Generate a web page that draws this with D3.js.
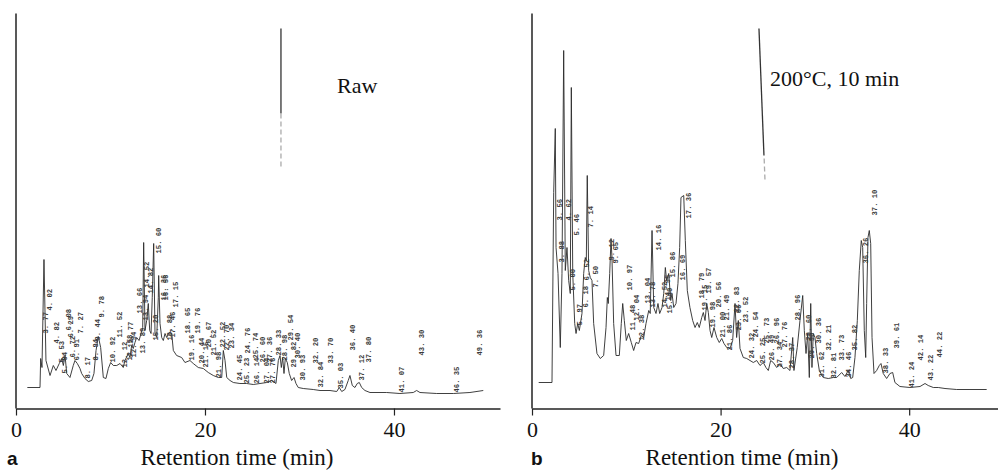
<!DOCTYPE html>
<html>
<head>
<meta charset="utf-8">
<script src="https://cdn.jsdelivr.net/npm/d3@7"></script>
<style>
    body { margin: 0; background: #fff; }
    svg { display: block; }
</style>
</head>
<body>
<svg id="chart" width="998" height="470"></svg>
<script>
// Retention time ticks (min)
const xTicks = [0, 20, 40];

// Raw sample trace: [time (min), signal]
const rawTrace = [
    [1.20, 21], [2.54, 21], [2.61, 50], [2.75, 41], [2.96, 149], [3.17, 48], [3.60, 33], [3.95, 43],
    [4.23, 38], [4.58, 45], [4.84, 50], [5.01, 43], [5.19, 53], [5.37, 35], [5.71, 31], [6.06, 43],
    [6.24, 48], [6.49, 45], [6.77, 40], [6.95, 35], [7.30, 30], [7.65, 27], [8.01, 28], [8.25, 35],
    [8.47, 58], [8.71, 72], [8.96, 61], [9.24, 31], [9.52, 30], [9.77, 40], [10.02, 46], [10.30, 43],
    [10.66, 43], [11.01, 45], [11.35, 41], [11.53, 48], [11.88, 55], [12.06, 51], [12.24, 63], [12.41, 60],
    [12.59, 66], [12.77, 71], [13.02, 68], [13.23, 75], [13.41, 81], [13.51, 166], [13.65, 78], [13.83, 88],
    [14.00, 105], [14.15, 78], [14.29, 75], [14.42, 111], [14.57, 165], [14.71, 75], [14.89, 71], [15.06, 111],
    [15.10, 133], [15.24, 85], [15.42, 71], [15.59, 68], [15.77, 75], [15.95, 71], [16.19, 76], [16.48, 75],
    [16.65, 58], [17.00, 53], [17.53, 51], [17.88, 46], [18.41, 48], [18.76, 45], [19.29, 41], [19.82, 40],
    [20.35, 36], [20.88, 33], [21.41, 31], [21.77, 31], [21.94, 58], [22.12, 48], [22.30, 31], [22.65, 28],
    [23.00, 26], [23.70, 25], [24.41, 25], [25.11, 24], [25.82, 25], [26.53, 26], [27.06, 28], [27.51, 25],
    [27.76, 48], [27.94, 53], [28.08, 41], [28.22, 51], [28.36, 35], [28.50, 50], [28.71, 46], [28.92, 35],
    [29.17, 28], [29.42, 31], [29.63, 25], [29.87, 21], [30.40, 20], [31.46, 19], [32.17, 18], [33.23, 18],
    [33.94, 17], [34.21, 21], [34.47, 17], [34.81, 19], [35.16, 28], [35.34, 33], [35.59, 23], [35.87, 21],
    [36.11, 25], [36.33, 26], [36.58, 21], [36.93, 18], [37.46, 16], [39.23, 16], [40.63, 15], [42.04, 16],
    [42.40, 18], [42.75, 16], [44.52, 15], [46.28, 15], [48.04, 16], [49.45, 18]
];

// Raw sample peak labels: [text, time (min), signal at label start]
const rawLabels = [
    ['3. 77', 3.14, 75], ['4. 02', 3.52, 98], ['4. 82', 4.23, 65], ['5. 53', 4.84, 46], ['5. 94', 5.11, 35],
    ['6. 08', 5.53, 78], ['6. 29', 5.79, 71], ['6. 72', 6.00, 51], ['6. 91', 6.42, 48], ['7. 27', 6.77, 75],
    ['8. 17', 7.54, 30], ['8. 94', 8.43, 48], ['9. 44', 8.65, 68], ['9. 78', 9.07, 91], ['10. 92', 10.23, 46],
    ['11. 52', 10.93, 71], ['12. 12', 11.53, 41], ['12. 58', 11.99, 48], ['12. 77', 12.14, 61], ['12. 94', 12.41, 51],
    ['13. 66', 13.05, 95], ['13. 89', 13.41, 55], ['13. 94', 13.72, 88], ['14. 52', 13.83, 121], ['14. 82', 14.18, 115],
    ['15. 20', 14.71, 68], ['15. 60', 15.06, 155], ['16. 36', 15.59, 108], ['16. 56', 15.84, 108], ['16. 88', 16.22, 68],
    ['17. 46', 16.51, 71], ['17. 15', 16.83, 101], ['18. 65', 18.17, 75], ['19. 16', 18.59, 48], ['19. 76', 19.19, 75],
    ['20. 44', 19.68, 45], ['21. 15', 20.07, 41], ['20. 67', 20.32, 61], ['21. 52', 20.88, 53], ['21. 98', 21.41, 31],
    ['22. 52', 21.87, 61], ['22. 70', 22.30, 58], ['23. 34', 22.83, 60], ['24. 45', 23.70, 28], ['24. 76', 24.50, 55],
    ['25. 23', 24.44, 25], ['25. 74', 25.29, 50], ['26. 14', 25.40, 25], ['26. 60', 26.10, 46], ['27. 04', 26.46, 25],
    ['27. 36', 26.80, 46], ['27. 76', 27.12, 25], ['28. 33', 27.76, 53], ['28. 98', 28.36, 48], ['29. 54', 29.00, 68],
    ['29. 82', 29.34, 41], ['30. 40', 29.81, 50], ['30. 93', 30.30, 28], ['32. 20', 31.64, 45], ['32. 84', 32.17, 21],
    ['33. 70', 33.23, 45], ['35. 03', 34.29, 20], ['36. 40', 35.63, 58], ['37. 12', 36.51, 28], ['37. 80', 37.28, 46],
    ['41. 07', 40.74, 16], ['43. 30', 42.93, 53], ['46. 35', 46.63, 16], ['49. 36', 49.10, 53]
];

// 200°C, 10 min trace: [time (min), signal]
const heatTrace = [
    [0.71, 26], [2.12, 26], [2.30, 216], [2.47, 280], [2.55, 161], [2.76, 135], [3.00, 61], [3.18, 135],
    [3.36, 358], [3.53, 138], [3.71, 161], [3.89, 128], [4.06, 115], [4.17, 321], [4.32, 135], [4.53, 85],
    [4.67, 75], [4.85, 85], [5.02, 78], [5.30, 95], [5.48, 135], [5.65, 151], [5.76, 148], [5.86, 233],
    [6.01, 138], [6.18, 131], [6.36, 128], [6.54, 85], [6.89, 55], [7.24, 50], [7.60, 53], [7.85, 81],
    [7.99, 111], [8.09, 105], [8.24, 135], [8.38, 170], [8.48, 151], [8.66, 85], [8.91, 53], [9.26, 53],
    [9.47, 85], [9.62, 105], [9.79, 88], [10.00, 68], [10.25, 75], [10.53, 66], [10.78, 58], [11.03, 66],
    [11.31, 65], [11.59, 73], [11.84, 71], [12.09, 85], [12.38, 98], [12.54, 95], [12.73, 178], [12.91, 101],
    [13.15, 95], [13.36, 105], [13.54, 95], [13.79, 101], [13.97, 115], [14.14, 141], [14.28, 128], [14.50, 135],
    [14.71, 108], [14.85, 115], [15.03, 101], [15.27, 105], [15.48, 125], [15.66, 161], [15.80, 211], [16.09, 213],
    [16.26, 168], [16.47, 118], [16.75, 101], [17.04, 88], [17.29, 81], [17.53, 86], [17.74, 81], [18.00, 91],
    [18.17, 96], [18.35, 88], [18.53, 105], [18.70, 96], [18.88, 78], [19.06, 71], [19.30, 81], [19.59, 71],
    [19.86, 66], [20.12, 70], [20.36, 65], [20.65, 61], [21.00, 60], [21.28, 68], [21.53, 105], [21.70, 71],
    [21.88, 88], [22.06, 60], [22.41, 51], [22.77, 50], [23.12, 48], [23.47, 46], [23.83, 48], [24.18, 43],
    [24.53, 46], [24.81, 41], [25.06, 38], [25.31, 48], [25.59, 46], [25.95, 41], [26.30, 45], [26.65, 40],
    [27.01, 41], [27.36, 38], [27.65, 71], [27.78, 38], [28.13, 61], [28.42, 88], [28.71, 113], [28.88, 78],
    [29.06, 55], [29.24, 75], [29.41, 31], [29.56, 105], [29.69, 41], [29.83, 75], [30.01, 71], [30.19, 55],
    [30.47, 38], [30.89, 31], [31.42, 30], [31.95, 31], [32.31, 31], [32.84, 36], [33.19, 32], [33.54, 38],
    [33.80, 30], [34.01, 31], [34.25, 51], [34.50, 88], [34.71, 138], [34.92, 168], [35.07, 161], [35.24, 78],
    [35.39, 51], [35.49, 105], [35.63, 171], [35.77, 178], [35.92, 165], [36.06, 71], [36.27, 35], [36.55, 38],
    [36.83, 43], [37.01, 45], [37.25, 35], [37.61, 30], [37.96, 35], [38.25, 36], [38.49, 26], [39.02, 22],
    [40.08, 21], [41.15, 22], [41.68, 25], [42.02, 23], [42.56, 21], [43.09, 21], [43.80, 20], [45.04, 19],
    [46.45, 19], [48.22, 19]
];

// 200°C, 10 min peak labels: [text, time (min), signal at label start]
const heatLabels = [
    ['3. 56', 2.90, 188], ['3. 88', 3.08, 146], ['4. 62', 3.92, 188], ['5. 00', 4.32, 118], ['5. 46', 4.74, 173],
    ['5. 97', 5.02, 83], ['6. 18', 5.65, 101], ['6. 52', 5.76, 128], ['7. 14', 6.22, 181], ['7. 50', 6.75, 121],
    ['9. 12', 8.38, 148], ['9. 65', 8.80, 145], ['10. 97', 10.32, 118], ['11. 48', 10.68, 78], ['12. 04', 11.03, 88],
    ['12. 38', 11.63, 68], ['13. 04', 12.27, 105], ['13. 78', 12.80, 101], ['14. 16', 13.39, 158], ['14. 52', 14.00, 101],
    ['14. 95', 14.32, 108], ['15. 40', 14.63, 95], ['15. 86', 14.92, 131], ['16. 69', 15.98, 128], ['17. 36', 16.57, 190],
    ['18. 79', 17.92, 110], ['19. 15', 18.24, 98], ['19. 57', 18.70, 115], ['19. 98', 19.12, 81], ['20. 56', 19.76, 101],
    ['21. 00', 20.22, 71], ['21. 49', 20.65, 88], ['21. 86', 20.92, 58], ['22. 83', 21.71, 96], ['23. 06', 21.88, 78],
    ['23. 52', 22.59, 86], ['24. 32', 23.30, 50], ['24. 54', 23.65, 71], ['25. 25', 24.42, 45], ['25. 73', 24.89, 65],
    ['26. 49', 25.42, 48], ['26. 96', 25.95, 65], ['27. 34', 26.22, 41], ['27. 76', 26.76, 61], ['28. 37', 27.47, 40],
    ['28. 96', 28.18, 88], ['29. 60', 29.27, 68], ['29. 90', 29.69, 50], ['30. 36', 30.33, 65], ['31. 62', 30.72, 31],
    ['32. 21', 31.42, 58], ['32. 81', 31.95, 30], ['33. 73', 32.84, 48], ['34. 46', 33.54, 31], ['35. 82', 34.25, 58],
    ['36. 26', 35.39, 145], ['37. 10', 36.30, 193], ['38. 33', 37.51, 35], ['39. 61', 38.67, 60], ['41. 24', 40.27, 21],
    ['42. 14', 41.22, 48], ['43. 22', 42.21, 28], ['44. 22', 43.19, 51]
];

// Vertical marker strokes near the top of each run: solid part, then faint part ([t, v] pairs)
const rawMarker = [[[28.04, 380], [28.04, 295]], [[28.04, 295], [28.04, 241]]];
const heatMarker = [[[24.07, 380], [24.60, 253]], [[24.62, 250], [24.71, 228]]];

const svg = d3.select('#chart');

const y = d3.scaleLinear()
    .domain([0, 400])
    .range([408.5, 8.5]);

const SERIF = '"Liberation Serif", "Times New Roman", serif';

function drawPanel(opts) {
    const { trace, labels, marker, x, letter, letterX, titleX, note, notePos } = opts;
    const g = svg.append('g');
    const x0 = x.range()[0];

    // Chromatogram trace
    g.append('path')
        .datum(trace)
        .attr('fill', 'none')
        .attr('stroke', '#2a2a2a')
        .attr('stroke-width', 0.9)
        .attr('stroke-linejoin', 'round')
        .attr('d', d3.line().x(d => x(d[0])).y(d => y(d[1])));

    // Marker stroke
    marker.forEach((seg, i) => {
        g.append('line')
            .attr('x1', x(seg[0][0])).attr('y1', y(seg[0][1]))
            .attr('x2', x(seg[1][0])).attr('y2', y(seg[1][1]))
            .attr('stroke', i === 0 ? '#333' : '#aaa')
            .attr('stroke-width', 1.3)
            .attr('stroke-dasharray', i === 0 ? null : '5,3');
    });

    // Peak labels (rotated, reading upward)
    g.selectAll('.peak')
        .data(labels)
        .enter()
        .append('text')
        .attr('class', 'peak')
        .attr('transform', d => `translate(${x(d[1])},${y(d[2])}) rotate(-90)`)
        .attr('dy', '0.35em')
        .style('font-family', '"Liberation Mono", "DejaVu Sans Mono", monospace')
        .style('font-weight', 'bold')
        .style('font-size', '7.2px')
        .style('fill', '#3a3a3a')
        .text(d => d[0]);

    // Y axis line (no ticks)
    g.append('line')
        .attr('x1', x0).attr('x2', x0)
        .attr('y1', y(0)).attr('y2', y(395))
        .attr('stroke', '#222')
        .attr('stroke-width', 1.5);

    // X axis
    const xAxis = d3.axisBottom(x)
        .tickValues(xTicks)
        .tickSize(7)
        .tickSizeOuter(0)
        .tickPadding(6)
        .tickFormat(d3.format('d'));

    const ax = g.append('g')
        .attr('transform', `translate(0,${y(0)})`)
        .call(xAxis);
    ax.select('.domain').attr('stroke', '#222').attr('stroke-width', 1.5);
    ax.selectAll('.tick line').attr('stroke', '#222').attr('stroke-width', 1.2);
    ax.selectAll('.tick text')
        .style('font-family', SERIF)
        .style('font-size', '22px')
        .style('fill', '#111');

    // Axis title
    g.append('text')
        .attr('x', titleX)
        .attr('y', 465)
        .attr('text-anchor', 'middle')
        .style('font-family', SERIF)
        .style('font-size', '23px')
        .style('fill', '#111')
        .text('Retention time (min)');

    // Panel letter
    g.append('text')
        .attr('x', letterX)
        .attr('y', 465)
        .style('font-family', '"Liberation Sans", Arial, sans-serif')
        .style('font-weight', 'bold')
        .style('font-size', '19px')
        .style('fill', '#111')
        .text(letter);

    // Condition note
    g.append('text')
        .attr('x', notePos[0])
        .attr('y', notePos[1])
        .style('font-family', SERIF)
        .style('font-size', '22px')
        .style('fill', '#111')
        .text(note);
}

drawPanel({
    trace: rawTrace,
    labels: rawLabels,
    marker: rawMarker,
    x: d3.scaleLinear().domain([0, 51.22]).range([16, 500]),
    letter: 'a',
    letterX: 7,
    titleX: 237,
    note: 'Raw',
    notePos: [337, 93]
});

drawPanel({
    trace: heatTrace,
    labels: heatLabels,
    marker: heatMarker,
    x: d3.scaleLinear().domain([0, 49.42]).range([532, 998]),
    letter: 'b',
    letterX: 531,
    titleX: 742,
    note: '200°C, 10 min',
    notePos: [770, 86]
});
</script>
</body>
</html>
